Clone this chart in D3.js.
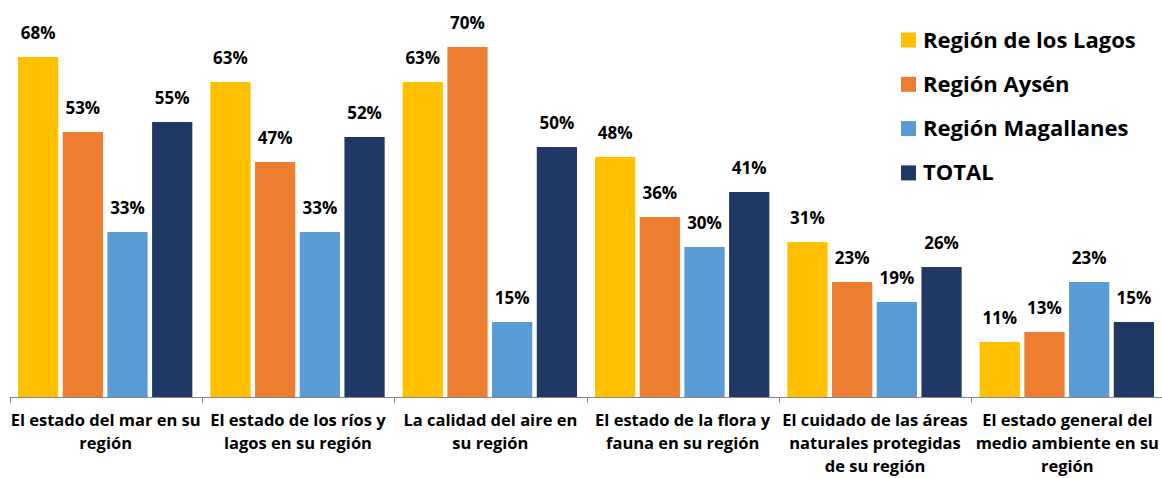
<!DOCTYPE html>
<html>
<head>
<meta charset="utf-8">
<script src="https://cdn.jsdelivr.net/npm/d3@7"></script>
<style>
  body { margin: 0; background: #fff; }
  svg { display: block; font-family: "Open Sans", sans-serif; }
</style>
</head>
<body>
<svg id="chart" width="1162" height="478"></svg>
<script>
// categorias (lineas ya cortadas como en el original)
const categories = [
  ['El estado del mar en su', 'región'],
  ['El estado de los ríos y', 'lagos en su región'],
  ['La calidad del aire en', 'su región'],
  ['El estado de la flora y', 'fauna en su región'],
  ['El cuidado de las áreas', 'naturales protegidas', 'de su región'],
  ['El estado general del', 'medio ambiente en su', 'región']
];
const seriesNames = ['Región de los Lagos', 'Región Aysén', 'Región Magallanes', 'TOTAL'];
const seriesColors = ['#FFC000', '#ED7D31', '#5B9BD5', '#203864'];

const lagos      = [68, 63, 63, 48, 31, 11];
const aysen      = [53, 47, 70, 36, 23, 13];
const magallanes = [33, 33, 15, 30, 19, 23];
const total      = [55, 52, 50, 41, 26, 15];
const seriesValues = [lagos, aysen, magallanes, total];

const svg = d3.select('#chart');
const baseY = 397;

const x0 = d3.scaleBand()
  .domain(d3.range(categories.length))
  .range([9.5, 1163.5])
  .paddingInner(0)
  .paddingOuter(0);

const x1 = d3.scaleBand()
  .domain(d3.range(seriesNames.length))
  .range([8.5, x0.bandwidth() - 9.5])
  .paddingInner(0.1)
  .paddingOuter(0);

const y = d3.scaleLinear().domain([0, 70]).range([baseY, 47]);

const groups = svg.append('g').attr('class', 'bars')
  .selectAll('g')
  .data(categories.map((c, i) => i))
  .join('g')
  .attr('transform', i => `translate(${x0(i)},0)`);

groups.selectAll('rect')
  .data(i => seriesValues.map((vals, s) => ({ s, v: vals[i] })))
  .join('rect')
  .attr('x', d => x1(d.s))
  .attr('y', d => y(d.v))
  .attr('width', x1.bandwidth())
  .attr('height', d => baseY - y(d.v))
  .attr('fill', d => seriesColors[d.s]);

groups.selectAll('text.val')
  .data(i => seriesValues.map((vals, s) => ({ s, v: vals[i] })))
  .join('text')
  .attr('class', 'val')
  .attr('x', d => x1(d.s) + x1.bandwidth() / 2)
  .attr('y', d => y(d.v) - 18)
  .attr('text-anchor', 'middle')
  .attr('font-size', 17)
  .attr('font-weight', 'bold')
  .attr('fill', '#000')
  .text(d => d.v + '%');

// eje
const axis = svg.append('g').attr('class', 'axis');
axis.append('line')
  .attr('x1', x0.range()[0]).attr('x2', 1162)
  .attr('y1', baseY + 0.5).attr('y2', baseY + 0.5)
  .attr('stroke', '#868686').attr('stroke-width', 1);

const tickPos = d3.range(categories.length + 1).map(i => x0.range()[0] + i * x0.bandwidth());
axis.selectAll('line.tick')
  .data(tickPos)
  .join('line')
  .attr('class', 'tick')
  .attr('x1', d => Math.round(d) + 0.5).attr('x2', d => Math.round(d) + 0.5)
  .attr('y1', baseY).attr('y2', baseY + 6)
  .attr('stroke', '#868686');

const catLabels = axis.selectAll('text.cat')
  .data(categories)
  .join('text')
  .attr('class', 'cat')
  .attr('text-anchor', 'middle')
  .attr('font-size', 16.5)
  .attr('font-weight', 'bold')
  .attr('fill', '#000');

catLabels.selectAll('tspan')
  .data((lines, i) => lines.map(l => ({ l, i })))
  .join('tspan')
  .attr('x', d => x0(d.i) + x0.bandwidth() / 2)
  .attr('y', (d, k) => 426 + k * 23)
  .text(d => d.l);

// leyenda
const legend = svg.append('g').attr('class', 'legend')
  .selectAll('g')
  .data(seriesNames)
  .join('g')
  .attr('transform', (d, i) => `translate(901,${40 + i * 44.3})`);

legend.append('rect')
  .attr('x', 0).attr('y', -7.5)
  .attr('width', 15).attr('height', 15)
  .attr('fill', (d, i) => seriesColors[i]);

legend.append('text')
  .attr('x', 22)
  .attr('y', 7.5)
  .attr('font-size', 22)
  .attr('font-weight', 'bold')
  .attr('fill', '#000')
  .text(d => d);
</script>
</body>
</html>
